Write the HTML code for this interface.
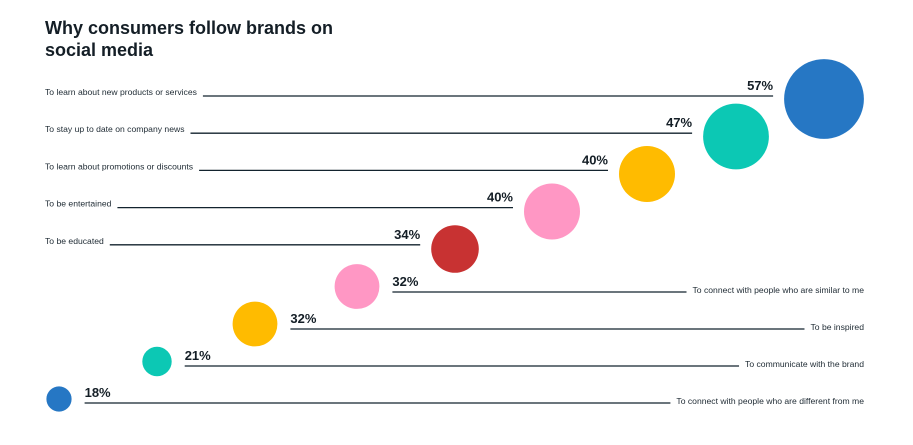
<!DOCTYPE html>
<html><head><meta charset="utf-8"><style>
body{margin:0;background:#fff;width:913px;height:440px;overflow:hidden;font-family:"Liberation Sans",sans-serif}
</style></head><body>
<svg width="913" height="440" id="chart">
<text x="45" y="34" font-size="18" font-weight="bold" fill="#141e26">Why consumers follow brands on</text>
<text x="45" y="56" font-size="18" font-weight="bold" fill="#141e26">social media</text>
</svg>
<script>
const categories=["To learn about new products or services","To stay up to date on company news","To learn about promotions or discounts","To be entertained","To be educated","To connect with people who are similar to me","To be inspired","To communicate with the brand","To connect with people who are different from me"];
const values=[57,47,40,40,34,32,32,21,18];
const valueLabels=["57%","47%","40%","40%","34%","32%","32%","21%","18%"];
const colors=["#2677c4","#0cc8b4","#ffbb00","#ff97c4","#c83232","#ff97c4","#ffbb00","#0cc8b4","#2677c4"];
const svg=document.getElementById('chart');const NS='http://www.w3.org/2000/svg';
function mk(t,a){const e=document.createElementNS(NS,t);for(const k in a)e.setAttribute(k,a[k]);svg.appendChild(e);return e;}
const n=values.length;
const rScale=v=>v*0.7;
const layoutCols=[824,736,647,552,455,357,255,157,59];
const cxOf=i=>layoutCols[i];
const cyOf=i=>99+i*37.5;
function tw(s,fs){const t=mk('text',{'font-size':fs});t.textContent=s;const w=t.getComputedTextLength();t.remove();return w;}
values.forEach((v,i)=>{
  const cx=cxOf(i),cy=cyOf(i),r=rScale(v);
  const c=mk('circle',{cx:cx,cy:cy,r:r,fill:colors[i]});
  
  
  const top=i<5;
  const ly=top?96+i*37.2:292+(i-5)*37;
  let x1,x2,px,lx,anchorL,anchorP;
  if(top){
    x2=cx-r-11; x1=45+tw(categories[i],8.6)+6;
    lx=45; anchorL='start'; px=x2; anchorP='end';
  }else{
    x1=cx+r+13; x2=864-tw(categories[i],8.6)-6;
    lx=864; anchorL='end'; px=x1; anchorP='start';
  }
  const ln=mk('line',{x1:x1,x2:x2,y1:ly,y2:ly,stroke:'#13232e','stroke-width':1.3});
  
  
  const lt=mk('text',{x:lx,y:top?ly-1:ly+1,'font-size':8.6,fill:'#1e2a33','text-anchor':anchorL});
  lt.textContent=categories[i];
  
  
  const pt=mk('text',{x:px,y:ly-6,'font-size':13,'font-weight':'bold',fill:'#141e26','text-anchor':anchorP});
  pt.textContent=valueLabels[i];
  
  
});
</script>
</body></html>
